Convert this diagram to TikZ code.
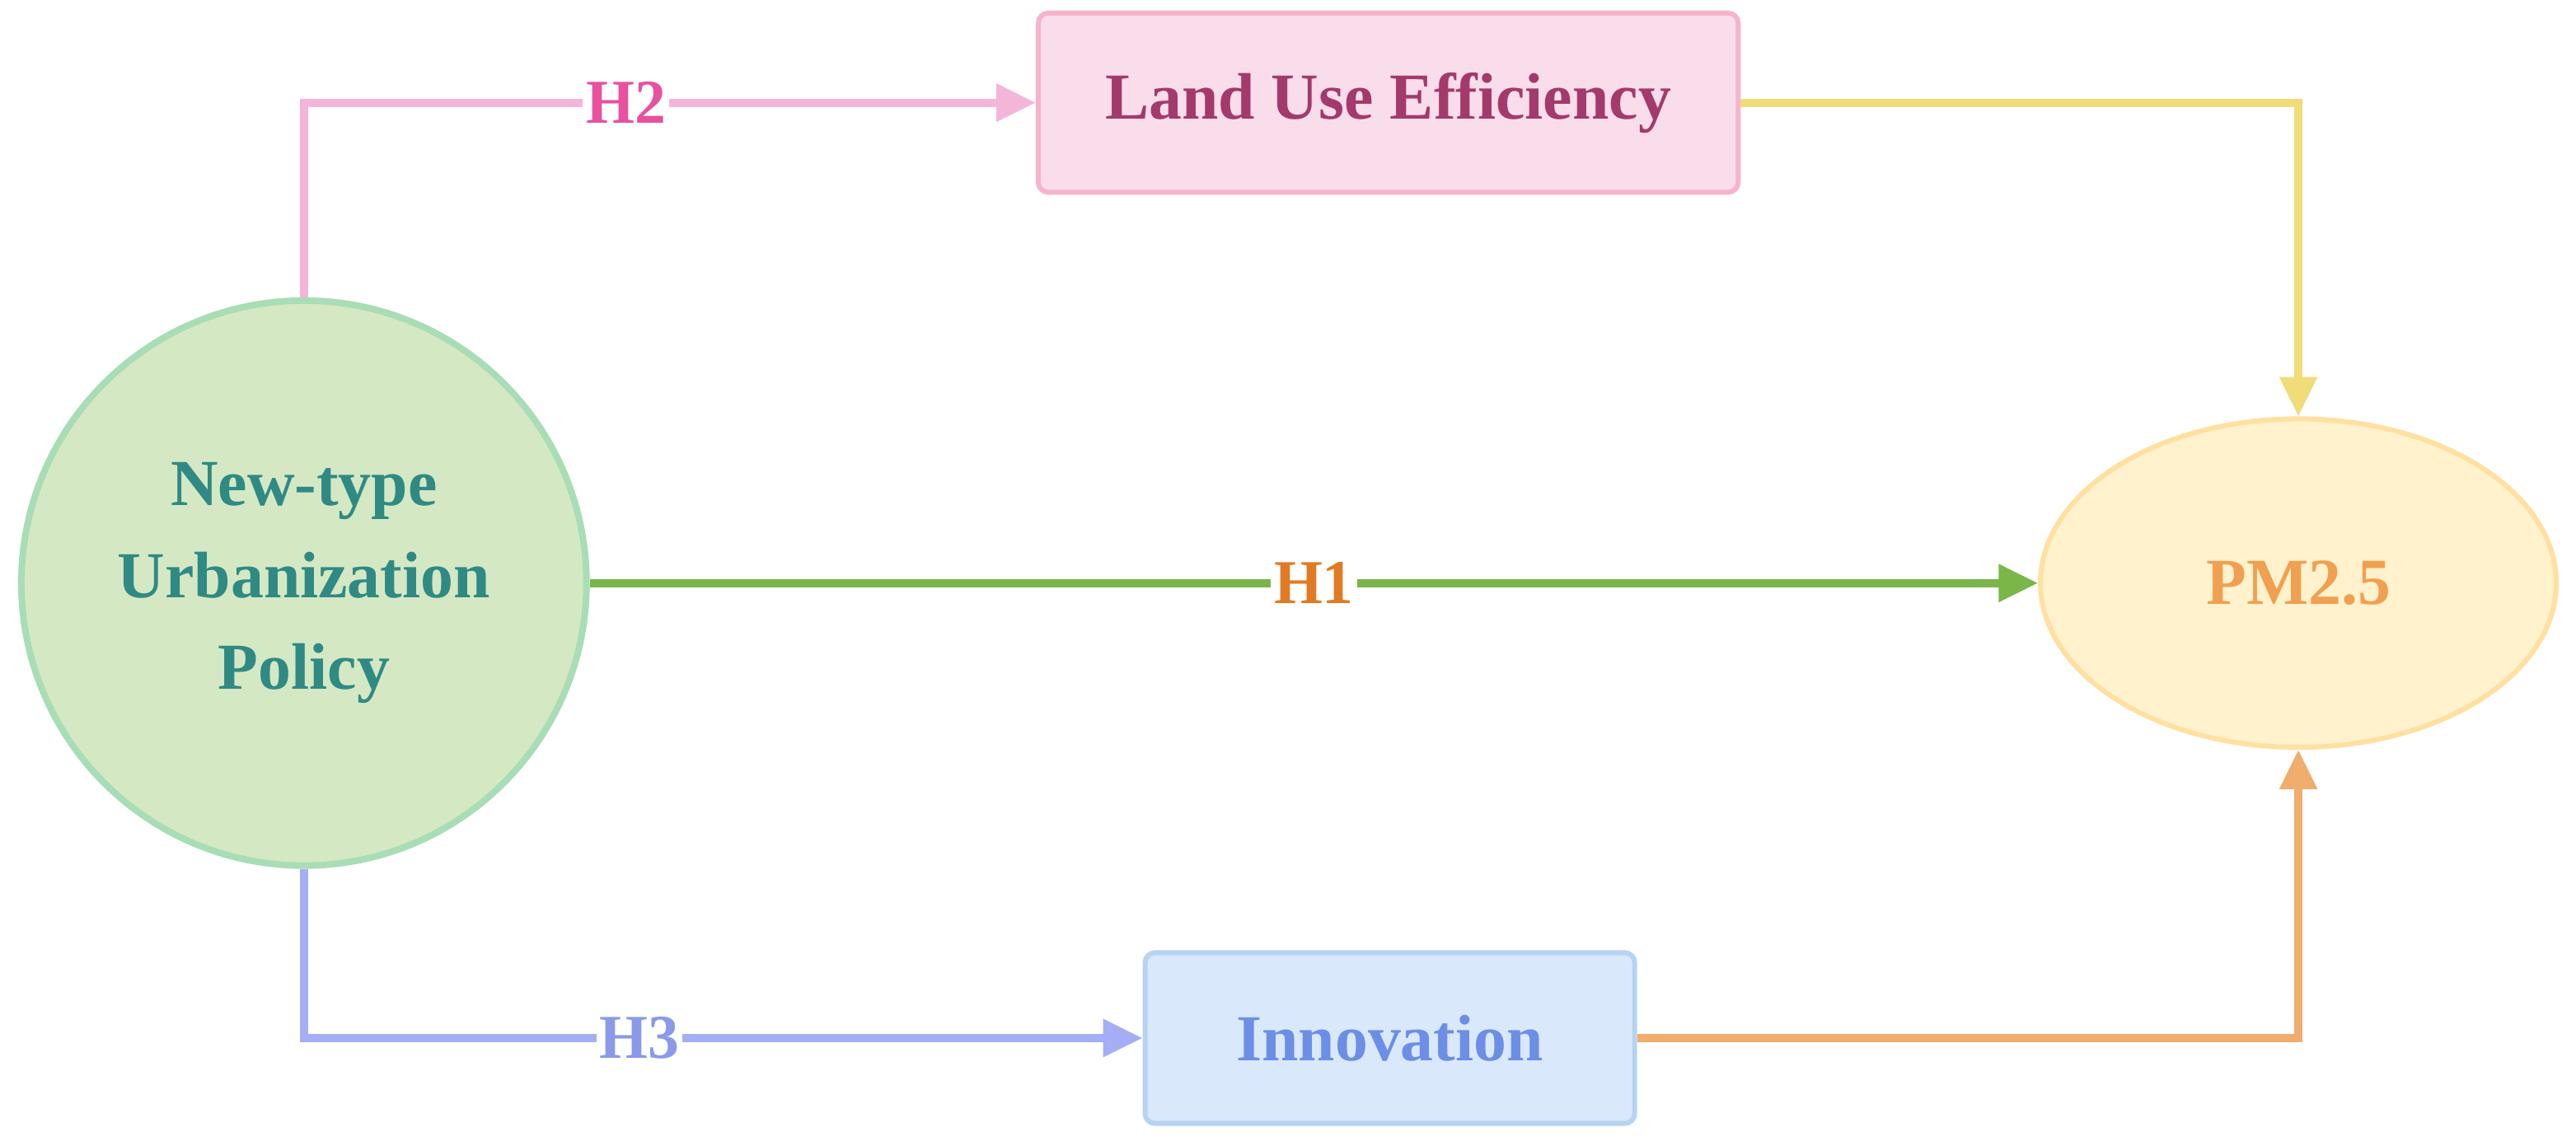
\documentclass[tikz,border=0pt]{standalone}
\usepackage{fontspec}
\setmainfont{Liberation Serif}
\usetikzlibrary{arrows.meta,shapes.geometric}
\definecolor{cfill}{HTML}{D5E8C4}\definecolor{cdraw}{HTML}{A8DDB5}\definecolor{ctext}{HTML}{2F8A84}
\definecolor{lfill}{HTML}{FADDEB}\definecolor{ldraw}{HTML}{F7B3CC}\definecolor{ltext}{HTML}{A33A6B}
\definecolor{ifill}{HTML}{DAE8FC}\definecolor{idraw}{HTML}{B6D3F2}\definecolor{itext}{HTML}{6C8EE6}
\definecolor{pfill}{HTML}{FFF2CC}\definecolor{pdraw}{HTML}{FFE0A0}\definecolor{ptext}{HTML}{F0A050}
\definecolor{gline}{HTML}{7AB648}\definecolor{hone}{HTML}{E07B24}
\definecolor{pline}{HTML}{F4B6D8}\definecolor{htwo}{HTML}{E850A0}
\definecolor{yline}{HTML}{F0DC78}
\definecolor{bline}{HTML}{A3AEF5}\definecolor{hthree}{HTML}{8A9AE8}
\definecolor{oline}{HTML}{F0AD6E}
\tikzset{
 conn/.style={line width=2.5pt,-{Triangle[length=12pt,width=11pt]}},
 lab/.style={fill=white,font=\bfseries\fontsize{19}{22}\selectfont,inner sep=1pt},
 box/.style={draw,line width=1.5pt,rounded corners=3pt,font=\bfseries\fontsize{20}{24}\selectfont}
}
\begin{document}
\begin{tikzpicture}[x=0.5pt,y=-0.5pt]
\useasboundingbox (0,0) rectangle (1568,697.6);
\node[circle,draw=cdraw,fill=cfill,line width=2pt,minimum size=172pt,text=ctext,align=center,font=\bfseries\fontsize{20}{28}\selectfont] (nt) at (185,355) {New-type\\Urbanization\\Policy};
\node[box,draw=ldraw,fill=lfill,text=ltext,minimum width=213pt,minimum height=54.5pt] (lu) at (845,62.5) {Land Use Efficiency};
\node[box,draw=idraw,fill=ifill,text=itext,minimum width=149pt,minimum height=52pt] (in) at (846,632) {Innovation};
\node[ellipse,draw=pdraw,fill=pfill,line width=1.5pt,minimum width=157pt,minimum height=100pt,text=ptext,font=\bfseries\fontsize{20}{24}\selectfont] (pm) at (1399,355) {PM2.5};
\draw[conn,gline] (nt.east) -- node[lab,text=hone]{H1} (pm.west);
\draw[conn,pline] (nt.north) |- node[lab,text=htwo,pos=0.72]{H2} (lu.west);
\draw[conn,yline] (lu.east) -| (pm.north);
\draw[conn,bline] (nt.south) |- node[lab,text=hthree,pos=0.7]{H3} (in.west);
\draw[conn,oline] (in.east) -| (pm.south);
\end{tikzpicture}
\end{document}
